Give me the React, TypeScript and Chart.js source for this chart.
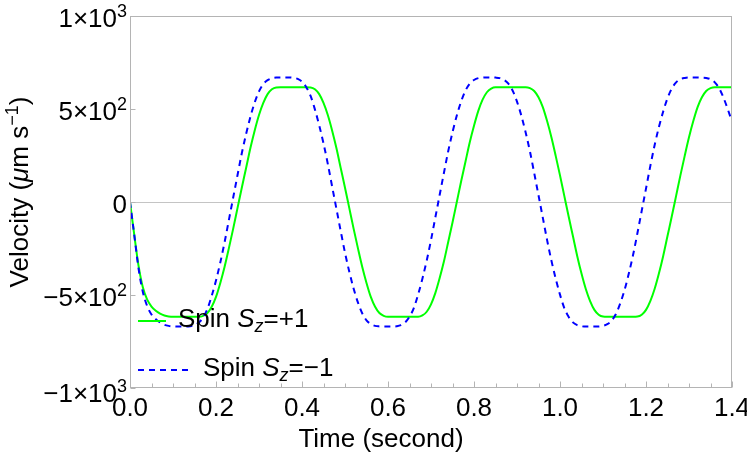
import { useEffect, useRef } from "react";
import { Chart, registerables } from "chart.js";

Chart.register(...registerables);

// Time samples (seconds)
const TIME = [
  0, 0.01, 0.02, 0.03, 0.04, 0.05, 0.06, 0.07, 0.08, 0.09,
  0.1, 0.11, 0.12, 0.13, 0.14, 0.15, 0.16, 0.17, 0.18, 0.19,
  0.2, 0.21, 0.22, 0.23, 0.24, 0.25, 0.26, 0.27, 0.28, 0.29,
  0.3, 0.31, 0.32, 0.33, 0.34, 0.35, 0.36, 0.37, 0.38, 0.39,
  0.4, 0.41, 0.42, 0.43, 0.44, 0.45, 0.46, 0.47, 0.48, 0.49,
  0.5, 0.51, 0.52, 0.53, 0.54, 0.55, 0.56, 0.57, 0.58, 0.59,
  0.6, 0.61, 0.62, 0.63, 0.64, 0.65, 0.66, 0.67, 0.68, 0.69,
  0.7, 0.71, 0.72, 0.73, 0.74, 0.75, 0.76, 0.77, 0.78, 0.79,
  0.8, 0.81, 0.82, 0.83, 0.84, 0.85, 0.86, 0.87, 0.88, 0.89,
  0.9, 0.91, 0.92, 0.93, 0.94, 0.95, 0.96, 0.97, 0.98, 0.99,
  1.0, 1.01, 1.02, 1.03, 1.04, 1.05, 1.06, 1.07, 1.08, 1.09,
  1.1, 1.11, 1.12, 1.13, 1.14, 1.15, 1.16, 1.17, 1.18, 1.19,
  1.2, 1.21, 1.22, 1.23, 1.24, 1.25, 1.26, 1.27, 1.28, 1.29,
  1.3, 1.31, 1.32, 1.33, 1.34, 1.35, 1.36, 1.37, 1.38, 1.39,
  1.4,
];

// Velocity (µm/s), spin Sz = +1 (green, solid)
const SPIN_PLUS = [
  0, -178, -345, -460, -525, -562, -585, -600, -610, -615,
  -617, -617, -617, -617, -617, -617, -617, -612, -597, -563,
  -510, -435, -348, -248, -143, -33, 77, 183, 290, 385,
  468, 533, 580, 606, 616, 617, 617, 617, 617, 617,
  617, 617, 616, 606, 580, 533, 468, 385, 290, 183,
  77, -33, -143, -248, -348, -435, -510, -563, -597, -612,
  -617, -617, -617, -617, -617, -617, -617, -617, -610, -590,
  -550, -490, -410, -320, -215, -110, 0, 110, 215, 320,
  410, 490, 550, 590, 610, 617, 617, 617, 617, 617,
  617, 617, 617, 612, 597, 563, 510, 435, 348, 248,
  143, 33, -77, -183, -290, -385, -468, -533, -580, -606,
  -616, -617, -617, -617, -617, -617, -617, -617, -616, -606,
  -580, -533, -468, -385, -290, -183, -77, 33, 143, 248,
  348, 435, 510, 563, 597, 612, 617, 617, 617, 617,
  617,
];

// Velocity (µm/s), spin Sz = -1 (blue, dashed)
const SPIN_MINUS = [
  0, -178, -360, -485, -560, -605, -630, -648, -660, -666,
  -669, -670, -670, -670, -668, -662, -648, -622, -575, -505,
  -422, -325, -216, -96, 24, 144, 262, 365, 458, 535,
  595, 634, 655, 665, 669, 670, 670, 670, 668, 662,
  647, 617, 570, 498, 412, 315, 205, 84, -36, -156,
  -273, -375, -465, -540, -598, -636, -656, -666, -669, -670,
  -670, -670, -668, -662, -647, -617, -570, -498, -412, -315,
  -205, -84, 36, 156, 273, 375, 465, 540, 598, 636,
  656, 666, 669, 670, 670, 669, 666, 656, 636, 598,
  540, 465, 375, 273, 156, 36, -84, -205, -315, -412,
  -498, -570, -617, -647, -662, -668, -670, -670, -670, -669,
  -666, -657, -638, -602, -546, -474, -385, -284, -168, -48,
  72, 193, 305, 403, 487, 558, 610, 643, 660, 667,
  670, 670, 670, 669, 667, 660, 643, 612, 562, 500,
  432,
];

const X_TICKS = [0, 0.2, 0.4, 0.6, 0.8, 1.0, 1.2, 1.4];
const X_TICK_LABELS = ["0.0", "0.2", "0.4", "0.6", "0.8", "1.0", "1.2", "1.4"];
const X_MINOR_TICKS = [
  0, 0.05, 0.1, 0.15, 0.2, 0.25, 0.3, 0.35, 0.4, 0.45, 0.5, 0.55, 0.6, 0.65,
  0.7, 0.75, 0.8, 0.85, 0.9, 0.95, 1.0, 1.05, 1.1, 1.15, 1.2, 1.25, 1.3, 1.35, 1.4,
];
const Y_TICKS = [-1000, -500, 0, 500, 1000];
const Y_TICK_MANTISSA = ["\u22121\u00d710", "\u22125\u00d710", "0", "5\u00d710", "1\u00d710"];
const Y_TICK_EXPONENT = ["3", "2", "", "2", "3"];

const SERIES_NAMES = ["Spin Sz=+1", "Spin Sz=\u22121"];
const X_TITLE = "Time (second)";

const FAMILY = '"Liberation Sans", Arial, Helvetica, sans-serif';
const FS = 26;
const FS_SMALL = 18;
const GREEN = "#00ff00";
const BLUE = "#0000ff";
const FRAME = "#b4b4b4";

type Run = { text: string; font: string; dy: number };

function runsWidth(ctx: CanvasRenderingContext2D, runs: Run[]) {
  let total = 0;
  for (const r of runs) {
    ctx.font = r.font;
    total += ctx.measureText(r.text).width;
  }
  return total;
}

function drawRuns(ctx: CanvasRenderingContext2D, runs: Run[], x: number, y: number, align: "left" | "center" | "right") {
  const total = runsWidth(ctx, runs);
  let cx = align === "center" ? x - total / 2 : align === "right" ? x - total : x;
  ctx.textAlign = "left";
  for (const r of runs) {
    ctx.font = r.font;
    ctx.fillText(r.text, cx, y + r.dy);
    cx += ctx.measureText(r.text).width;
  }
}

function legendRuns(sign: string): Run[] {
  return [
    { text: "Spin ", font: `${FS}px ${FAMILY}`, dy: 0 },
    { text: "S", font: `italic ${FS}px ${FAMILY}`, dy: 0 },
    { text: "z", font: `italic ${FS_SMALL}px ${FAMILY}`, dy: 5 },
    { text: "=" + sign + "1", font: `${FS}px ${FAMILY}`, dy: 0 },
  ];
}

const overlay = {
  id: "overlay",
  afterDraw(chart: any) {
    const { ctx, chartArea, scales } = chart;
    const { left, right, top, bottom } = chartArea;
    ctx.save();
    // frame
    ctx.strokeStyle = FRAME;
    ctx.lineWidth = 1;
    ctx.strokeRect(left + 0.5, top + 0.5, right - left - 1, bottom - top - 1);
    // ticks (inward)
    ctx.beginPath();
    for (const v of X_MINOR_TICKS) {
      const px = Math.round(scales.x.getPixelForValue(v)) + 0.5;
      const major = X_TICKS.some((m) => Math.abs(m - v) < 1e-9);
      const len = major ? 6 : 4;
      ctx.moveTo(px, bottom - 0.5);
      ctx.lineTo(px, bottom - 0.5 - len);
    }
    for (const v of Y_TICKS) {
      const py = Math.round(scales.y.getPixelForValue(v)) + 0.5;
      ctx.moveTo(left + 0.5, py);
      ctx.lineTo(left + 0.5 + 5, py);
    }
    ctx.stroke();

    ctx.fillStyle = "#000";
    ctx.textBaseline = "alphabetic";

    // y tick labels with superscript exponents
    Y_TICKS.forEach((v, i) => {
      const py = scales.y.getPixelForValue(v);
      const runs: Run[] = [{ text: Y_TICK_MANTISSA[i], font: `${FS}px ${FAMILY}`, dy: 0 }];
      if (Y_TICK_EXPONENT[i]) runs.push({ text: Y_TICK_EXPONENT[i], font: `${FS_SMALL}px ${FAMILY}`, dy: -10 });
      const base = i === 0 ? py + 14 : py + 11;
      drawRuns(ctx, runs, left - 3, base, "right");
    });

    // x title
    drawRuns(ctx, [{ text: X_TITLE, font: `${FS}px ${FAMILY}`, dy: 0 }], left + 251, 447, "center");
    // y title (rotated)
    ctx.save();
    ctx.translate(28, (top + bottom) / 2 - 10);
    ctx.rotate(-Math.PI / 2);
    drawRuns(
      ctx,
      [
        { text: "Velocity (", font: `${FS}px ${FAMILY}`, dy: 0 },
        { text: "\u03bc", font: `italic ${FS}px ${FAMILY}`, dy: 0 },
        { text: "m s", font: `${FS}px ${FAMILY}`, dy: 0 },
        { text: "\u22121", font: `${FS_SMALL}px ${FAMILY}`, dy: -10 },
        { text: ")", font: `${FS}px ${FAMILY}`, dy: 0 },
      ],
      0,
      0,
      "center"
    );
    ctx.restore();

    // legend
    ctx.lineWidth = 2;
    ctx.strokeStyle = GREEN;
    ctx.setLineDash([]);
    ctx.beginPath();
    ctx.moveTo(left + 8, 321);
    ctx.lineTo(left + 36, 321);
    ctx.stroke();
    ctx.strokeStyle = BLUE;
    ctx.setLineDash([6, 5]);
    ctx.beginPath();
    ctx.moveTo(left + 8, 370);
    ctx.lineTo(left + 58, 370);
    ctx.stroke();
    ctx.setLineDash([]);
    ctx.fillStyle = "#000";
    drawRuns(ctx, legendRuns("+"), left + 48, 327, "left");
    drawRuns(ctx, legendRuns("\u2212"), left + 73, 376, "left");
    ctx.restore();
  },
};

export default function App() {
  const ref = useRef<HTMLCanvasElement>(null);
  useEffect(() => {
    document.body.style.margin = "0";
    const chart = new Chart(ref.current as HTMLCanvasElement, {
      type: "line",
      data: {
        datasets: [
          {
            label: SERIES_NAMES[0],
            data: TIME.map((t, i) => ({ x: t, y: SPIN_PLUS[i] })),
            borderColor: GREEN,
            backgroundColor: GREEN,
            borderWidth: 2,
            pointRadius: 0,
            cubicInterpolationMode: "monotone",
            fill: false,
            order: 1,
          },
          {
            label: SERIES_NAMES[1],
            data: TIME.map((t, i) => ({ x: t, y: SPIN_MINUS[i] })),
            borderColor: BLUE,
            backgroundColor: BLUE,
            borderWidth: 2,
            borderDash: [6, 5],
            pointRadius: 0,
            cubicInterpolationMode: "monotone",
            fill: false,
            order: 0,
          },
        ],
      },
      options: {
        responsive: false,
        animation: false,
        devicePixelRatio: 1,
        layout: { padding: { left: 0, right: 15, top: 16, bottom: 0 } },
        plugins: { legend: { display: false }, tooltip: { enabled: false } },
        scales: {
          x: {
            type: "linear",
            min: 0,
            max: 1.4,
            grid: { display: false, drawTicks: false },
            border: { display: false },
            afterBuildTicks: (s: any) => {
              s.ticks = X_TICKS.map((v) => ({ value: v }));
            },
            afterFit: (s: any) => {
              s.height = 71;
              s.paddingLeft = 0;
              s.paddingRight = 0;
            },
            ticks: {
              autoSkip: false,
              maxRotation: 0,
              padding: 5,
              color: "#000",
              font: { family: FAMILY, size: FS },
              callback: (v: any) => X_TICK_LABELS[X_TICKS.findIndex((m) => Math.abs(m - v) < 1e-9)],
            },
          },
          y: {
            type: "linear",
            min: -1000,
            max: 1000,
            grid: {
              drawTicks: false,
              color: (c: any) => (c.tick && c.tick.value === 0 ? "#c4c4c4" : "rgba(0,0,0,0)"),
              lineWidth: 1,
            },
            border: { display: false },
            afterBuildTicks: (s: any) => {
              s.ticks = Y_TICKS.map((v) => ({ value: v }));
            },
            afterFit: (s: any) => {
              s.width = 130;
              s.paddingTop = 0;
              s.paddingBottom = 0;
            },
            ticks: { display: false },
          },
        },
      },
      plugins: [overlay],
    } as any);
    return () => chart.destroy();
  }, []);
  return <canvas ref={ref} width={747} height={459} style={{ display: "block", width: 747, height: 459 }} />;
}
